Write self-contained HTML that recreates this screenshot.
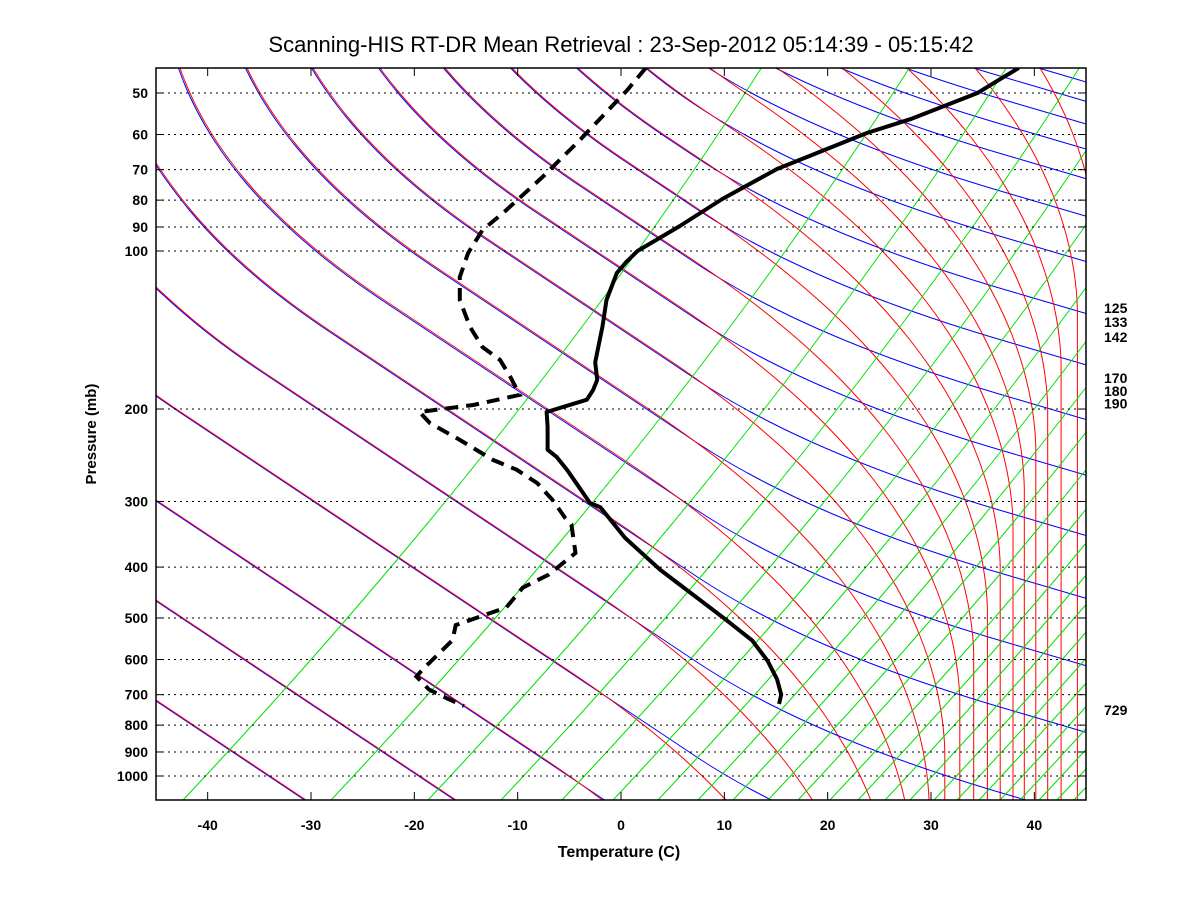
<!DOCTYPE html>
<html><head><meta charset="utf-8">
<style>
html,body{margin:0;padding:0;background:#fff;}
svg{display:block;font-family:"Liberation Sans",Arial,sans-serif;}
</style></head>
<body>
<svg id="chart" width="1200" height="900" viewBox="0 0 1200 900" xmlns="http://www.w3.org/2000/svg">
<rect width="1200" height="900" fill="#fff"/>
<defs><clipPath id="plotclip"><rect x="156" y="68" width="930" height="732"/></clipPath></defs>
<text x="621" y="52" text-anchor="middle" font-size="22" fill="#000">Scanning-HIS RT-DR Mean Retrieval : 23-Sep-2012 05:14:39 - 05:15:42</text>
<g id="bg" clip-path="url(#plotclip)"></g>
<g id="grid"></g>
<g id="series" clip-path="url(#plotclip)"></g>
<rect x="156" y="68" width="930" height="732" fill="none" stroke="#000" stroke-width="1.5"/>
<g id="axes"></g>
<text x="619" y="857" text-anchor="middle" font-size="16" font-weight="bold">Temperature (C)</text>
<text transform="translate(96,434) rotate(-90)" text-anchor="middle" font-size="15" font-weight="bold">Pressure (mb)</text>
</svg>
<script>
// ---- data ----
const tempP = [44.8,47.3,50,56.1,59.6,69.8,79.6,89.6,100,105,110.1,124,139.5,156,163,176,184,192,202.6,216,239,247,261.5,302,307.6,352,405,455,503,552,604,654,699,729];
const tempT = [38.5,36.5,34.5,28.0,23.8,15.1,9.8,5.7,1.6,0.5,-0.4,-1.4,-1.8,-2.3,-2.5,-2.3,-2.7,-3.3,-7.2,-7.1,-7.1,-6.2,-5.2,-3.0,-2.0,0.4,3.8,7.2,10.1,12.7,14.2,15.1,15.5,15.3];
const dewP = [44.8,49.4,61.5,72.3,84.6,91.2,100.9,112.1,124,139.6,152.4,161.3,173.8,188,196.5,202.6,212.6,229,250,261,276.7,298.5,322.6,331.8,376,413.5,437.6,477.6,515.8,550.9,626.9,646.4,684.1,713.7,735.5];
const dewT = [2.4,0.6,-4.0,-7.6,-11.4,-13.4,-14.8,-15.6,-15.6,-14.6,-13.4,-11.7,-10.7,-9.8,-14.3,-19.5,-18.5,-15.6,-12.4,-10.1,-8.1,-6.6,-5.4,-4.8,-4.4,-7.0,-9.5,-11.1,-16.0,-16.3,-19.2,-19.8,-18.6,-16.7,-15.2];
const yTicks = [50,60,70,80,90,100,200,300,400,500,600,700,800,900,1000];
const xTicks = [-40,-30,-20,-10,0,10,20,30,40];
const rightLabels = [125,133,142,170,180,190,729];

const NS="http://www.w3.org/2000/svg";
const L=156,R=1086,T=68,B=800;
function xs(t){return 621+t*(930/90);}
function ys(p){return 251+525*Math.log10(p/100);}
function mk(tag,attrs,parent){const e=document.createElementNS(NS,tag);for(const k in attrs)e.setAttribute(k,attrs[k]);parent.appendChild(e);return e;}

// ---- background reference lines (generated) ----
const bg=document.getElementById('bg');
function baseSlope(x,y){const st=0.35+0.0019*Math.max(0,x-180);return Math.min(1.5,st+0.0033*(y-68));}
function fRed(x,y){const xv=1150-0.3*(y-68);const b=Math.max(0,Math.min(1,(xv-x)/400));return baseSlope(x,y)*Math.pow(b,0.7);}
function fBlue(x,y){const c=3.4*Math.max(0,Math.min(1,(x-450)/550));return Math.max(baseSlope(x,y),c);}
function fGreen(x,y){return 0.94-0.3*(800-y)/730;}
function down(x0,y0,f){let x=x0,pts=[];for(let y=y0;y<=B+2&&x<R+40;y+=2){pts.push(x.toFixed(1)+','+y);x+=f(x,y)*2;}return pts.join(' ');}
function up(x0,f){let x=x0,pts=[];for(let y=B;y>=T-4;y-=2){pts.push(x.toFixed(1)+','+y);x+=f(x,y)*2;}return pts.join(' ');}
const topStarts=[180,247,313,380,445,512,578,647,710,777,842,907,975,1040];
const leftStarts=[163,287,395,500,600,700];
const starts=topStarts.map(x=>[x,T]).concat(leftStarts.map(y=>[L,y]));
starts.forEach(s=>{
 const b=mk('polyline',{points:down(s[0]-1.5,s[1],fBlue),fill:'none',stroke:'#0000ff','stroke-width':1},bg);
 
 
 const e=mk('polyline',{points:down(s[0],s[1],fRed),fill:'none',stroke:'#ff0000','stroke-width':1},bg);
 
 
});
const greenStarts=[183,331,428,501,562,613,658,698,733,768,798,830,858,885,910,934,957,979,1000,1020,1039,1057,1074];
greenStarts.forEach(s=>{const e=mk('polyline',{points:up(s,fGreen),fill:'none',stroke:'#00e000','stroke-width':1},bg);

});

// ---- grid and axes ----
const grid=document.getElementById('grid'),axes=document.getElementById('axes');
yTicks.forEach(p=>{const y=ys(p);
 const g=mk('line',{x1:L,x2:R,y1:y,y2:y,stroke:'#000','stroke-width':1,'stroke-dasharray':'2,4'},grid);
 
 
 mk('line',{x1:L,x2:L+8,y1:y,y2:y,stroke:'#000','stroke-width':1},axes);
 mk('line',{x1:R-8,x2:R,y1:y,y2:y,stroke:'#000','stroke-width':1},axes);
 const t=mk('text',{x:148,y:y+5,'text-anchor':'end','font-size':14,'font-weight':'bold'},axes);t.textContent=p;
 
 });
xTicks.forEach(v=>{const x=xs(v);
 mk('line',{x1:x,x2:x,y1:B,y2:B-8,stroke:'#000','stroke-width':1},axes);
 mk('line',{x1:x,x2:x,y1:T,y2:T+8,stroke:'#000','stroke-width':1},axes);
 const t=mk('text',{x:x,y:830,'text-anchor':'middle','font-size':14,'font-weight':'bold'},axes);t.textContent=v;
 
 });
rightLabels.forEach(p=>{const t=mk('text',{x:1104,y:ys(p)+11,'font-size':14,'font-weight':'bold'},axes);t.textContent=p;
 
 });

// ---- profiles ----
const ser=document.getElementById('series');
function pts(P,Tv){return P.map((p,i)=>xs(Tv[i]).toFixed(1)+','+ys(p).toFixed(1)).join(' ');}
const dl=mk('polyline',{points:pts(dewP,dewT),fill:'none',stroke:'#000','stroke-width':4,'stroke-dasharray':'13,8'},ser);


const tl=mk('polyline',{points:pts(tempP,tempT),fill:'none',stroke:'#000','stroke-width':4,'stroke-linejoin':'round'},ser);


</script>
</body></html>
